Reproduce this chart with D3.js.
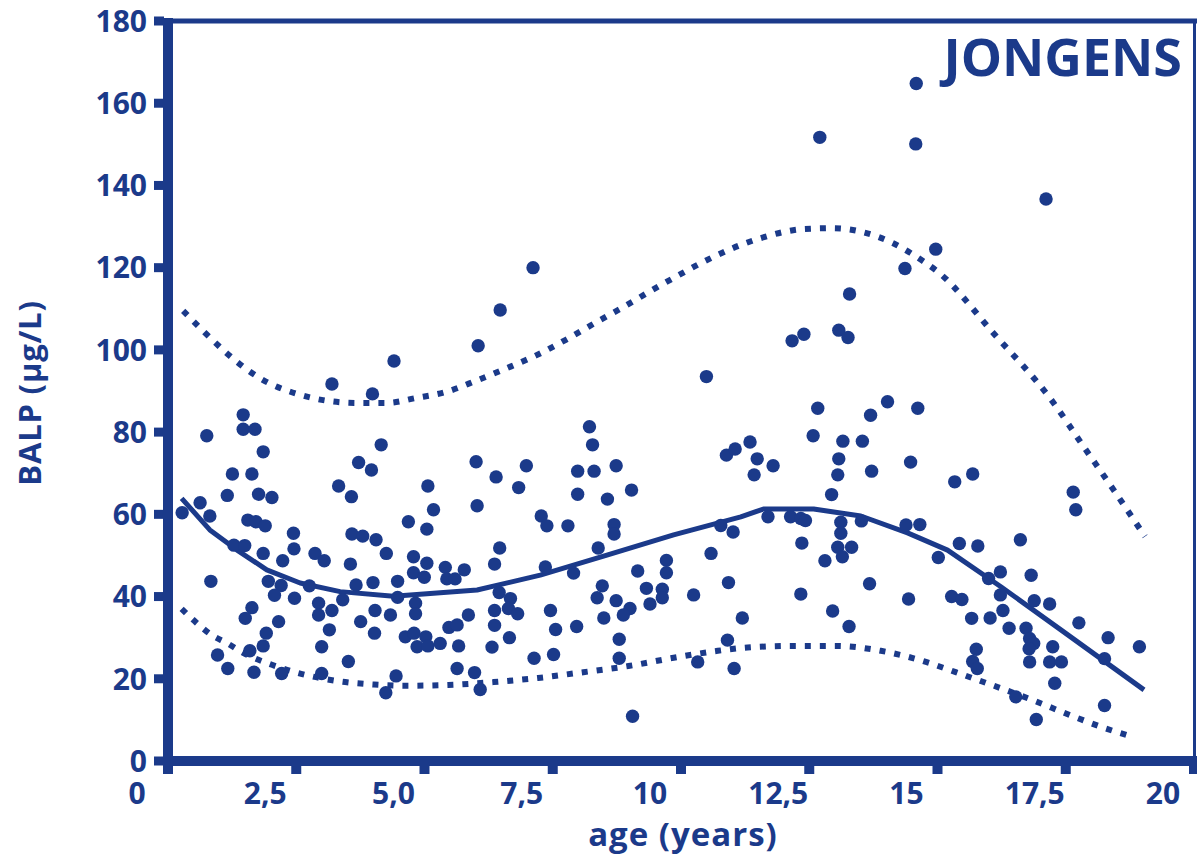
<!DOCTYPE html>
<html>
<head>
<meta charset="utf-8">
<script src="https://cdn.jsdelivr.net/npm/d3@7/dist/d3.min.js"></script>
<style>
  html, body { margin: 0; padding: 0; background: #fff; }
  svg { display: block; }
  text { font-family: "Open Sans", "Noto Sans", sans-serif; font-weight: 700; fill: #1b3a8a; }
</style>
</head>
<body>
<svg id="chart" width="1197" height="858"></svg>
<script>
// ---------- DATA ----------
const xTickValues = [0, 2.5, 5, 7.5, 10, 12.5, 15, 17.5, 20];
const xTickLabels = ["0", "2,5", "5,0", "7,5", "10", "12,5", "15", "17,5", "20"];
const yTickValues = [0, 20, 40, 60, 80, 100, 120, 140, 160, 180];
const yTickLabels = ["0", "20", "40", "60", "80", "100", "120", "140", "160", "180"];

const title = "JONGENS";
const xTitle = "age (years)";
const yTitle = "BALP (µg/L)";

// measured points: age (years)
const pointAge = [
  3.80,4.59,2.07,2.07,2.30,1.36,2.46,4.32,4.76,4.57,1.86,2.24,3.93,4.18,5.67,5.78,1.76,2.37,2.63,1.23,
  0.88,1.42,2.16,2.32,2.50,5.29,5.65,3.05,4.19,4.40,4.66,1.89,2.10,3.06,2.46,3.47,3.65,4.86,2.84,4.16,
  5.39,5.65,6.01,5.39,5.60,6.04,6.20,1.44,2.56,2.81,3.36,4.27,4.60,5.08,2.68,3.07,4.01,5.08,3.54,5.43,
  2.24,2.11,3.54,3.80,4.64,4.94,5.43,2.76,4.36,2.52,3.75,4.63,5.23,5.40,5.63,5.46,5.67,5.91,6.08,6.24,
  6.27,2.46,2.20,3.60,1.57,1.77,2.28,2.82,3.60,4.12,5.05,4.85,6.24,
  8.82,8.88,6.61,7.59,7.00,8.59,8.91,9.34,7.44,8.59,9.17,9.64,6.63,11.49,11.66,7.88,7.99,8.40,9.30,9.30,
  11.38,11.62,7.07,8.99,11.19,6.38,6.97,7.96,8.51,9.76,10.32,10.32,11.53,9.07,9.93,10.24,7.06,7.28,8.97,9.34,
  10.24,10.85,7.24,7.42,6.97,8.06,9.61,9.48,10.00,6.46,6.97,8.16,8.57,9.10,11.80,6.92,7.26,9.40,7.74,8.12,
  9.40,11.51,10.93,11.64,6.58,6.69,9.66,
  13.68,13.86,12.77,13.00,11.10,13.27,14.63,15.22,14.30,13.18,13.76,14.14,11.95,12.09,13.68,12.40,12.03,13.66,14.32,15.08,
  15.94,16.29,13.54,12.30,12.74,12.94,13.03,13.72,13.72,14.12,14.99,15.26,12.96,13.66,13.93,13.75,13.41,15.62,16.03,16.39,
  12.94,14.28,15.04,15.88,16.08,16.27,13.56,13.88,16.36,16.29,16.38,
  18.25,18.30,17.22,16.83,16.60,17.43,16.83,17.49,17.79,16.88,16.63,18.36,17.00,17.33,18.93,17.40,17.48,17.39,17.85,19.54,
  17.40,17.79,18.02,18.86,17.89,17.13,17.53,18.86,
  15.19,15.18,13.31,17.72,15.57,14.97,13.89,7.72,7.08,6.65,5.01
];
// measured points: BALP (µg/L)
const pointBALP = [
  91.7,89.3,84.2,80.7,80.7,79.1,75.2,72.6,76.9,70.8,69.8,69.8,66.9,64.3,66.9,61.1,64.6,64.9,64.1,62.8,
  60.4,59.6,58.6,58.2,57.2,58.2,56.4,55.4,55.2,54.7,53.8,52.5,52.4,51.6,50.5,50.5,48.7,50.5,48.7,47.9,
  49.7,48.1,47.1,45.8,44.7,44.3,44.3,43.7,43.7,42.7,42.6,42.8,43.4,43.7,40.3,39.6,39.2,39.8,38.4,38.4,
  37.3,34.7,35.5,36.6,36.6,35.5,35.8,33.9,33.9,31.1,31.9,31.1,30.2,31.1,30.2,27.8,28.0,28.6,32.5,33.1,
  28.0,28.0,26.8,27.8,25.8,22.5,21.6,21.3,21.3,24.2,20.7,16.6,22.5,
  81.3,76.9,72.8,71.8,69.1,70.5,70.5,71.8,66.5,64.9,63.7,65.9,62.1,74.4,75.9,59.6,57.2,57.2,57.5,55.2,
  57.3,55.7,51.8,51.8,50.5,46.5,47.9,47.2,45.7,46.2,48.8,45.8,43.4,42.6,42.0,41.8,41.0,39.5,39.7,39.0,
  39.7,40.4,37.1,35.8,36.6,36.6,37.1,35.5,38.2,35.5,33.0,32.0,32.7,34.8,34.8,27.7,30.0,29.6,25.0,25.9,
  25.0,29.4,24.1,22.5,21.5,17.4,10.9,
  104.8,103.0,102.2,103.8,93.5,85.8,87.4,85.8,84.1,79.1,77.8,77.8,77.6,73.5,73.5,71.8,69.6,69.6,70.5,72.7,
  67.9,69.8,64.8,59.4,59.4,59.0,58.5,58.1,55.4,58.4,57.4,57.5,53.0,52.0,52.0,49.7,48.7,49.5,52.9,52.3,
  40.6,43.1,39.4,40.0,39.3,34.7,36.5,32.7,27.2,24.2,22.5,
  65.4,61.1,53.8,46.0,44.4,45.2,40.4,39.0,38.2,36.6,34.8,33.6,32.3,32.3,30.0,29.8,28.6,27.3,27.8,27.8,
  24.1,24.1,24.1,24.9,18.9,15.6,10.1,13.5,
  164.8,150.1,151.7,136.7,124.5,119.8,113.6,120.0,109.7,101.0,97.3
];

// reference curves
const medianAge = [0.87,1.42,1.95,2.53,3.18,3.96,5.0,5.91,6.63,7.86,9.16,10.46,11.77,12.21,13.19,14.11,15.02,15.8,16.84,18.01,19.63];
const medianBALP = [63.9,56.2,51.3,46.5,43.3,41.2,40.1,40.9,41.6,45.2,50.1,55.0,59.4,61.3,61.3,59.6,55.5,51.3,42.4,31.9,17.3];

const upperAge = [0.90,2.56,3.12,3.72,4.29,4.86,5.44,6.03,6.61,7.18,7.77,8.35,8.92,9.52,10.09,10.65,10.93,12.16,13.0,13.56,14.13,14.73,15.32,15.61,16.7,17.85,18.44,19.04,19.65];
const upperBALP = [109.5,92.0,89.3,87.6,87.1,87.1,88.3,89.8,92.5,95.4,98.6,102.4,106.5,110.7,114.9,118.8,120.7,127.2,129.4,129.6,128.7,126.0,121.6,119.0,104.0,87.4,76.7,65.9,54.6];

const lowerAge = [0.87,1.16,1.46,1.75,2.07,2.63,3.2,4.06,4.62,5.23,6.07,6.95,7.82,8.7,9.58,10.46,11.32,11.9,12.78,13.62,14.5,15.38,15.96,16.55,17.4,18.26,18.84,19.43];
const lowerBALP = [37.0,33.6,30.6,28.7,26.3,23.4,21.2,19.2,18.6,18.3,18.5,19.2,20.2,21.6,23.1,25.1,26.8,27.6,28.0,28.0,26.8,24.1,21.6,19.0,15.1,10.8,8.1,5.8];

// ---------- STYLE / LAYOUT ----------
const C = "#1b3a8a";
const svg = d3.select("#chart");
const W = 1197, H = 858;

const x = d3.scaleLinear().domain([0, 20]).range([137, 1163]);
const y = d3.scaleLinear().domain([0, 180]).range([761, 21]);
const tickShift = 31; // ticks drawn right of their labels, as in the original

const frameLeft = x(0) + tickShift;    // y-axis line
const frameRight = x(20) + tickShift;  // right border
const frameTop = y(180);
const frameBottom = y(0);

// frame
svg.append("rect").attr("x", frameLeft - 5).attr("y", frameTop - 3)
  .attr("width", 10).attr("height", frameBottom - frameTop + 8).attr("fill", C);
svg.append("rect").attr("x", frameLeft - 5).attr("y", frameTop - 2.5)
  .attr("width", W - (frameLeft - 5)).attr("height", 5).attr("fill", C);
svg.append("rect").attr("x", frameRight - 1).attr("y", frameTop)
  .attr("width", 3).attr("height", frameBottom - frameTop).attr("fill", C);
svg.append("rect").attr("x", frameLeft - 5).attr("y", frameBottom - 5)
  .attr("width", W - (frameLeft - 5)).attr("height", 10).attr("fill", C);

// y ticks
svg.selectAll(".ytick").data(yTickValues).enter().append("rect")
  .attr("x", frameLeft - 14).attr("y", d => y(d) - 4.5)
  .attr("width", 10).attr("height", 9).attr("fill", C);
svg.selectAll(".ylab").data(yTickValues).enter().append("text")
  .attr("x", 147).attr("y", d => y(d))
  .attr("dy", "0.36em").attr("text-anchor", "end")
  .style("font-size", "30px")
  .text((d, i) => yTickLabels[i]);

// x ticks
svg.selectAll(".xtick").data(xTickValues).enter().append("rect")
  .attr("x", d => x(d) + tickShift - 5).attr("y", frameBottom + 4)
  .attr("width", 10).attr("height", 9).attr("fill", C);
svg.selectAll(".xlab").data(xTickValues).enter().append("text")
  .attr("x", d => x(d)).attr("y", 804)
  .attr("text-anchor", "middle")
  .style("font-size", "30px")
  .text((d, i) => xTickLabels[i]);

// titles
svg.append("text").attr("x", 683).attr("y", 846).attr("text-anchor", "middle")
  .style("font-size", "33px").style("letter-spacing", "1px").text(xTitle);
svg.append("text").attr("transform", "translate(41,393) rotate(-90)")
  .attr("text-anchor", "middle").style("font-size", "31px").style("letter-spacing", "0.8px").text(yTitle);
svg.append("text").attr("x", 1182).attr("y", 76).attr("text-anchor", "end")
  .style("font-size", "52px").text(title);

// reference curves
const toPts = (a, b) => a.map((v, i) => [v, b[i]]);
const lineMono = d3.line().x(d => x(d[0])).y(d => y(d[1])).curve(d3.curveMonotoneX);
const lineLin = d3.line().x(d => x(d[0])).y(d => y(d[1])).curve(d3.curveLinear);

[toPts(upperAge, upperBALP), toPts(lowerAge, lowerBALP)].forEach(pts => {
  svg.append("path").attr("d", lineMono(pts)).attr("fill", "none")
    .attr("stroke", C).attr("stroke-width", 6).attr("stroke-dasharray", "6 9");
});
svg.append("path").attr("d", lineLin(toPts(medianAge, medianBALP))).attr("fill", "none")
  .attr("stroke", C).attr("stroke-width", 5).attr("stroke-linejoin", "round");

// scatter points
svg.selectAll(".pt").data(pointAge.map((a, i) => [a, pointBALP[i]])).enter()
  .append("circle").attr("cx", d => x(d[0])).attr("cy", d => y(d[1]))
  .attr("r", 6.7).attr("fill", C);
</script>
</body>
</html>
